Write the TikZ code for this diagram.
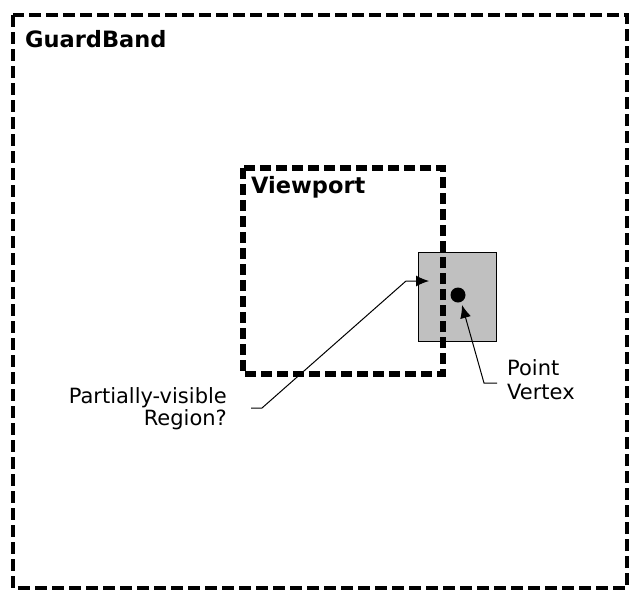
\documentclass[tikz,border=0pt]{standalone}
\usepackage{fontspec}
\setmainfont{DejaVu Sans}
\usetikzlibrary{arrows.meta}
\definecolor{regiongray}{HTML}{C0C0C0}
\begin{document}
\begin{tikzpicture}[x=1pt,y=-1pt,
  guard/.style={draw=black, line width=4pt, dash pattern=on 12pt off 5pt},
  view/.style={draw=black, line width=6pt, dash pattern=on 11pt off 5pt},
  regionbox/.style={draw=black, line width=1.2pt, fill=regiongray, minimum width=78pt, minimum height=89pt, inner sep=0pt, anchor=north west},
  lbl/.style={font=\fontsize{21}{20}\selectfont, inner sep=0pt},
  titlelbl/.style={font=\fontsize{22.5}{22}\selectfont\bfseries, inner sep=0pt, anchor=base west},
  pointer/.style={draw=black, line width=1pt, -{Latex[length=13pt,width=11pt]}}
]
\useasboundingbox (0,0) rectangle (630,590);
\path[guard] (13,15) rectangle (627,588);
\node[titlelbl] (gb) at (25,47) {GuardBand};
\node[regionbox] (region) at (418,252) {};
\path[view] (243,168) rectangle (443,374);
\node[titlelbl] (vp) at (251,193) {Viewport};
\node[circle, fill=black, minimum size=15pt, inner sep=0pt] (vertex) at (458,295) {};
\node[lbl, align=right, anchor=base east] (plabel) at (227,425) {Partially-visible\\Region?};
\node[lbl, align=left, anchor=base west] (vlabel) at (507,399) {Point\\[4pt]Vertex};
\coordinate (p0) at (251,408);
\coordinate (p1) at (262,408);
\coordinate (p2) at (406,281);
\coordinate (ptip) at (429,281);
\draw[pointer] (p0) -- (p1) -- (p2) -- (ptip);
\coordinate (v0) at (497,383);
\coordinate (v1) at (484,383);
\coordinate (vtip) at (462,305);
\draw[pointer] (v0) -- (v1) -- (vtip);
\end{tikzpicture}
\end{document}
